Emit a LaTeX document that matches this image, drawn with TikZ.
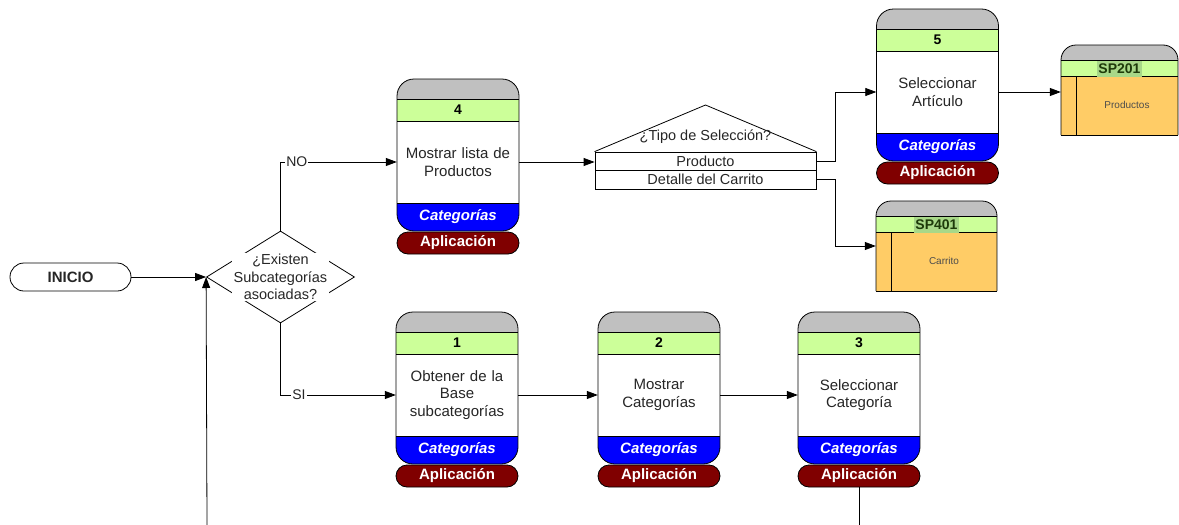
\documentclass[tikz,border=0pt]{standalone}
\usepackage{fontspec}
\setmainfont{Liberation Sans}
\usetikzlibrary{arrows.meta,shapes.geometric}
\definecolor{hdgrey}{HTML}{C0C0C0}
\definecolor{hdgreen}{HTML}{CCFF99}
\definecolor{catblue}{HTML}{0000FF}
\definecolor{appred}{HTML}{800000}
\definecolor{sporange}{HTML}{FFCC66}
\definecolor{sphl}{HTML}{A8D888}
\definecolor{sptext}{HTML}{1E3A0A}
\tikzset{
  arr/.style={-{Triangle[length=11pt,width=8pt]}, line width=0.8pt},
  ln/.style={line width=0.8pt},
  proctext/.style={text width=118pt, align=center, minimum width=122pt, minimum height=82pt, inner sep=0pt, text=black!85, font=\fontsize{15}{17.5}\selectfont},
  numtext/.style={inner sep=0pt, font=\fontsize{14}{16}\selectfont\bfseries},
  cattext/.style={inner sep=0pt, text=white, font=\fontsize{15}{17}\selectfont\bfseries\itshape},
  apppill/.style={draw, line width=0.8pt, fill=appred, rounded corners=11pt, minimum width=122pt, minimum height=22pt, inner sep=0pt, text=white, font=\fontsize{15}{17}\selectfont\bfseries},
  splabel/.style={fill=sphl, inner sep=1pt, minimum height=16pt, text=sptext, font=\fontsize{14}{16}\selectfont\bfseries},
  sptxt/.style={inner sep=0pt, text=black!70, font=\fontsize{10}{12}\selectfont},
  selrow/.style={draw, line width=0.8pt, minimum width=221pt, minimum height=18.5pt, inner sep=0pt, font=\fontsize{14.5}{16}\selectfont, text=black!85},
  seltitle/.style={inner sep=0pt, font=\fontsize{14.5}{16}\selectfont, text=black!85},
  lbl/.style={fill=white, inner sep=1pt, font=\fontsize{14}{16}\selectfont, text=black!85},
}
\newcommand\procbox[5]{% name, cx, top, number, text
  \begin{scope}
    \clip[rounded corners=17pt] (#2-61,#3) rectangle (#2+61,#3+152);
    \fill[hdgrey] (#2-61,#3) rectangle (#2+61,#3+20);
    \fill[hdgreen] (#2-61,#3+20) rectangle (#2+61,#3+42);
    \fill[white] (#2-61,#3+42) rectangle (#2+61,#3+124);
    \fill[catblue] (#2-61,#3+124) rectangle (#2+61,#3+152);
  \end{scope}
  \draw[ln] (#2-61,#3+20) -- (#2+61,#3+20) (#2-61,#3+42) -- (#2+61,#3+42) (#2-61,#3+124) -- (#2+61,#3+124);
  \draw[ln, rounded corners=17pt] (#2-61,#3) rectangle (#2+61,#3+152);
  \node[numtext, name=#1num] at (#2,#3+31) {#4};
  \node[proctext, name=#1] at (#2,#3+83) {#5};
  \node[cattext, name=#1cat] at (#2,#3+138) {Categorías};
  \node[apppill, name=#1app] at (#2,#3+164) {Aplicación};
}
\newcommand\spbox[6]{% name, left, top, width, label, text
  \begin{scope}
    \clip[rounded corners=15pt] (#2,#3) rectangle (#2+#4,#3+130);
    \fill[hdgrey] (#2,#3) rectangle (#2+#4,#3+15);
    \fill[hdgreen] (#2,#3+15) rectangle (#2+#4,#3+31);
    \fill[sporange] (#2,#3+31) rectangle (#2+#4,#3+90);
  \end{scope}
  \draw[ln, rounded corners=15pt] (#2,#3+90) -- (#2,#3) -- (#2+#4,#3) -- (#2+#4,#3+90);
  \draw[ln] (#2,#3+90) -- (#2+#4,#3+90) (#2,#3+15) -- (#2+#4,#3+15) (#2,#3+31) -- (#2+#4,#3+31) (#2+15,#3+31) -- (#2+15,#3+90);
  \node[name=#1, minimum width=#4pt, minimum height=90pt, inner sep=0pt] at (#2+#4/2,#3+45) {};
  \node[splabel, name=#1lab] at (#2+#4/2,#3+23.5) {#5};
  \node[sptxt, name=#1txt] at (#2+7.5+#4/2,#3+60) {#6};
}
\begin{document}
\begin{tikzpicture}[x=1pt, y=-1pt]
\useasboundingbox (0,0) rectangle (1179,525);

% start and decision
\node[draw, ln, rounded corners=14pt, minimum width=121pt, minimum height=28pt, inner sep=0pt, font=\fontsize{15}{17}\selectfont\bfseries, text=black!85, name=ini] at (70.5,277) {INICIO};
\node[diamond, draw, ln, fill=white, aspect=1.64, minimum width=148pt, minimum height=92pt, inner sep=0pt, name=dec] at (280.5,277) {};
\node[fill=white, inner sep=1.5pt, align=center, font=\fontsize{14.5}{17.5}\selectfont, text=black!85, name=dectext] at (280.5,277) {¿Existen\\Subcategorías\\asociadas?};

% process boxes
\procbox{p4}{458}{79}{4}{Mostrar lista de\\Productos}
\procbox{p5}{937.5}{9}{5}{Seleccionar\\Artículo}
\procbox{p1}{457}{312}{1}{Obtener de la\\Base\\subcategorías}
\procbox{p2}{659}{312}{2}{Mostrar\\Categorías}
\procbox{p3}{859}{312}{3}{Seleccionar\\Categoría}

% stored procedures
\spbox{sp201}{1061}{45}{117}{SP201}{Productos}
\spbox{sp401}{876}{201}{121}{SP401}{Carrito}

% selection shape
\node[selrow, name=selp] at (705.5,161.25) {Producto};
\node[selrow, name=selc] at (705.5,179.75) {Detalle del Carrito};
\coordinate (apex) at (705.5,105);
\draw[ln] (selp.north west) -- (apex) -- (selp.north east);
\node[seltitle, name=selq] at (705.5,137) {¿Tipo de Selección?};

% connectors
\coordinate (botL) at (207,525);
\coordinate (botR) at (859,525);
\draw[arr] (ini.east) -- (dec.west);
\draw[arr] (botL) -- (dec.west);
\draw[arr] (dec.north) |- node[pos=0.57, lbl] {NO} (p4.west);
\draw[arr] (dec.south) |- node[pos=0.58, lbl] {SI} (p1.west);
\draw[arr] (p1.east) -- (p2.west);
\draw[arr] (p2.east) -- (p3.west);
\draw[arr] (p4.east) -- (p4.east -| selp.west);
\draw[arr] (selp.east) -- ++(19,0) |- (p5.west);
\draw[arr] (selc.east) -- ++(19,0) |- (sp401.west);
\draw[arr] (p5.east) -- (p5.east -| sp201.west);
\draw[ln] (p3app.south) -- (botR);
\end{tikzpicture}
\end{document}
